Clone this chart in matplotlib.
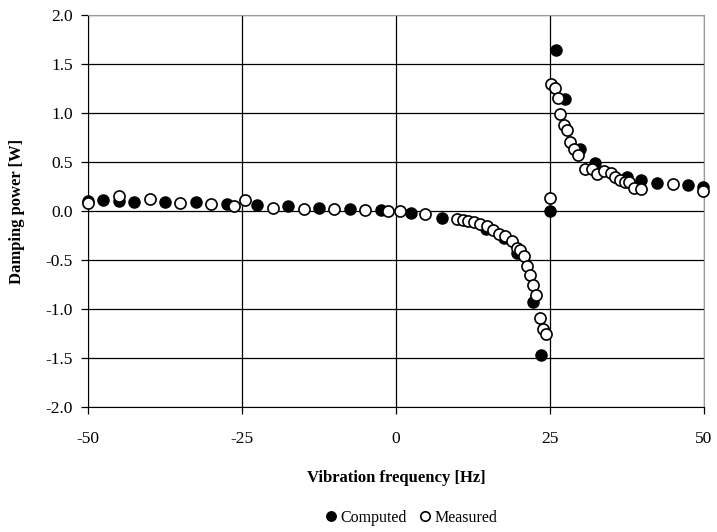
import matplotlib
matplotlib.use("Agg")
import matplotlib.pyplot as plt
from matplotlib.ticker import FormatStrFormatter

plt.rcParams['font.family'] = ['Liberation Serif', 'DejaVu Serif']
plt.rcParams['axes.unicode_minus'] = False

# Computed (filled markers)
comp_f = [-50, -47.5, -45, -42.5, -37.5, -32.5, -27.5, -22.5, -17.5, -12.5, -7.5, -2.5,
          2.5, 7.5, 14.6, 17.5, 19.6, 22.3, 23.5, 25.0, 26.05, 27.4, 29.9, 32.3,
          37.45, 39.85, 42.4, 47.4, 49.9]
comp_p = [0.10, 0.11, 0.10, 0.095, 0.088, 0.088, 0.07, 0.06, 0.05, 0.035, 0.02, 0.015,
          -0.02, -0.07, -0.18, -0.28, -0.425, -0.925, -1.47, 0.0, 1.64, 1.14, 0.63, 0.49,
          0.35, 0.32, 0.29, 0.265, 0.25]

# Measured (open markers)
meas_f = [-50, -45, -40, -35, -30, -26.3, -24.5, -20, -15, -10, -5, -1.3, 0.6, 4.7,
          9.85, 10.8, 11.75, 12.7, 13.6, 14.8, 15.8, 16.8, 17.7, 18.8, 19.7, 20.1, 20.7,
          21.2, 21.75, 22.2, 22.8, 23.3, 23.8, 24.3, 25.0, 25.2, 25.8, 26.35, 26.6, 27.2,
          27.7, 28.2, 28.95, 29.6, 30.7, 31.8, 32.6, 33.7, 34.9, 35.6, 36.4, 37.2, 37.9,
          38.6, 39.7, 44.9, 49.9]
meas_p = [0.08, 0.15, 0.12, 0.08, 0.07, 0.05, 0.11, 0.035, 0.02, 0.02, 0.015, 0.0, -0.005, -0.03,
          -0.08, -0.09, -0.10, -0.115, -0.135, -0.15, -0.19, -0.23, -0.26, -0.31, -0.38, -0.40, -0.46,
          -0.56, -0.65, -0.755, -0.86, -1.095, -1.2, -1.255, 0.13, 1.30, 1.26, 1.15, 0.99, 0.88,
          0.83, 0.70, 0.63, 0.57, 0.425, 0.425, 0.38, 0.41, 0.39, 0.35, 0.32, 0.30, 0.30,
          0.23, 0.22, 0.275, 0.20]

x_ticks = [-50, -25, 0, 25, 50]
y_ticks = [-2.0, -1.5, -1.0, -0.5, 0.0, 0.5, 1.0, 1.5, 2.0]

fig = plt.figure(figsize=(7.17, 5.32), dpi=100)
ax = fig.add_axes([88/717, 1-407/532, (704-88)/717, (407-15)/532])

ax.set_xlim(-50, 50)
ax.set_ylim(-2.0, 2.0)
ax.set_xticks(x_ticks)
ax.set_yticks(y_ticks)
ax.yaxis.set_major_formatter(FormatStrFormatter('%.1f'))
ax.grid(True, color='black', linewidth=0.9)
ax.set_axisbelow(True)

for side in ['top', 'right']:
    ax.spines[side].set_color('#9a9a9a')
for side in ['left', 'bottom']:
    ax.spines[side].set_color('black')
ax.tick_params(direction='out', length=5, width=0.9, labelsize=12.5, colors='black')
ax.tick_params(axis='x', pad=12)
ax.tick_params(axis='y', pad=6)

ax.plot(comp_f, comp_p, linestyle='none', marker='o', markersize=8,
        markerfacecolor='black', markeredgecolor='black', markeredgewidth=1.0,
        label='Computed', clip_on=False, zorder=3)
ax.plot(meas_f, meas_p, linestyle='none', marker='o', markersize=8,
        markerfacecolor='white', markeredgecolor='black', markeredgewidth=1.2,
        label='Measured', clip_on=False, zorder=4)

ax.set_xlabel('Vibration frequency [Hz]', fontsize=12, fontweight='bold', labelpad=17)
ax.set_ylabel('Damping power [W]', fontsize=12, fontweight='bold', labelpad=15)

leg = fig.legend(loc='center', bbox_to_anchor=(410/717, 1-518/532), ncol=2, frameon=False,
                 fontsize=11.5, handletextpad=0.1, columnspacing=0.6, handlelength=1.0,
                 markerscale=0.85)

fig.savefig('out.png', dpi=100)
